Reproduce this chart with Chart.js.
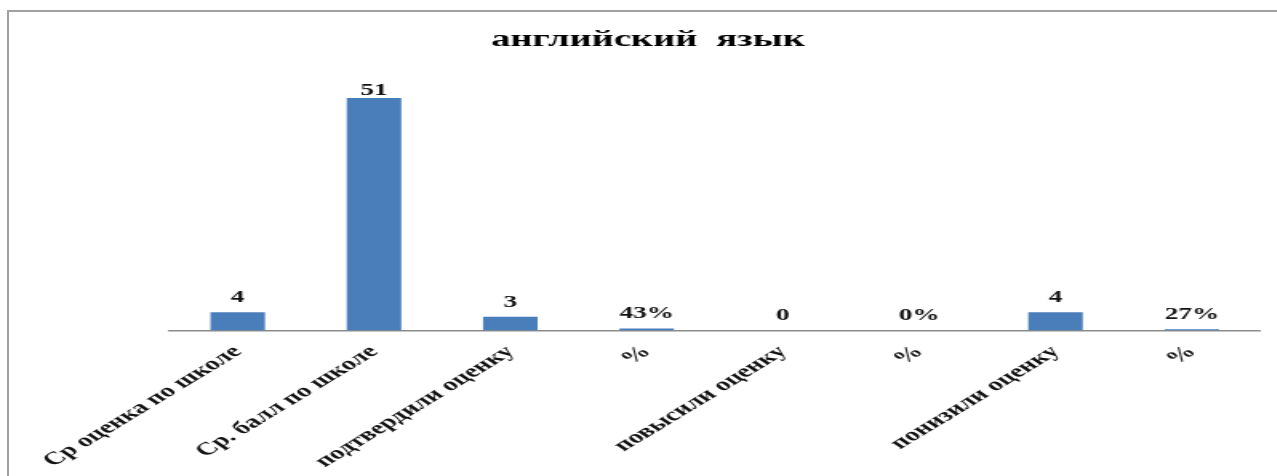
<!DOCTYPE html>
<html>
<head>
<meta charset="utf-8">
<script src="https://cdn.jsdelivr.net/npm/chart.js@4/dist/chart.umd.min.js"></script>
<style>
html,body{margin:0;padding:0;background:#fff;overflow:hidden;width:1277px;height:476px;}
#clip{position:absolute;left:0;top:0;width:1277px;height:476px;overflow:hidden;}
#wrap{position:absolute;left:0;top:0;width:798px;height:475px;transform:scaleX(1.6);transform-origin:0 0;}
#borderTop{position:absolute;left:7px;top:10px;width:1270px;height:0;border-top:2px solid #a0a0a0;}
#borderLeft{position:absolute;left:7px;top:10px;width:0;height:466px;border-left:2px solid #a0a0a0;}
</style>
</head>
<body>
<div id="clip"><div id="wrap"><canvas id="c"></canvas></div></div>
<div id="borderTop"></div>
<div id="borderLeft"></div>
<script>
const chartTitle = 'английский  язык';
const categories = ['Ср оценка по школе', 'Ср. балл по школе', 'подтвердили оценку', '%', 'повысили оценку', '%', 'понизили оценку', '%'];
const values = [4, 51, 3, 0.43, 0, 0, 4, 0.27];
const isPercent = [false, false, false, true, false, true, false, true];

const SERIF = '"Liberation Serif", "Times New Roman", serif';

const valueLabels = {
  id: 'valueLabels',
  afterDatasetsDraw(chart) {
    const ctx = chart.ctx;
    const meta = chart.getDatasetMeta(0);
    ctx.save();
    ctx.font = 'bold 17px ' + SERIF;
    ctx.fillStyle = '#111';
    ctx.textAlign = 'center';
    ctx.textBaseline = 'alphabetic';
    meta.data.forEach((bar, i) => {
      const txt = isPercent[i] ? Math.round(values[i] * 100) + '%' : String(values[i]);
      let y = bar.y - 10;
      y = Math.max(y, chart.chartArea.top + 15);
      ctx.fillText(txt, bar.x, y);
    });
    ctx.restore();
  }
};

new Chart(document.getElementById('c'), {
  type: 'bar',
  data: {
    labels: categories,
    datasets: [{
      data: values,
      backgroundColor: '#4a7ebb',
      borderWidth: 0,
      barPercentage: 0.4,
      categoryPercentage: 1.0
    }]
  },
  options: {
    responsive: true,
    maintainAspectRatio: false,
    animation: false,
    devicePixelRatio: 1,
    layout: { padding: { left: 12, right: 0, top: 12, bottom: 0 } },
    plugins: {
      legend: { display: false },
      tooltip: { enabled: false },
      title: {
        display: true,
        text: chartTitle,
        color: '#000',
        font: { family: SERIF, size: 24, weight: 'bold' },
        padding: { top: 13.6, bottom: 25.5 }
      }
    },
    scales: {
      x: {
        grid: { display: false },
        border: { display: true, color: '#8c8c8c', width: 1.5 },
        ticks: {
          autoSkip: false,
          minRotation: 44,
          maxRotation: 44,
          padding: 3,
          color: '#111',
          font: { family: SERIF, size: 18, weight: 'bold' }
        }
      },
      y: {
        display: true,
        min: 0,
        max: 55,
        grid: { display: false },
        border: { display: false },
        ticks: { display: false },
        afterFit(scale) { scale.width = 94; }
      },
      yR: {
        display: true,
        position: 'right',
        grid: { display: false },
        border: { display: false },
        ticks: { display: false },
        afterFit(scale) { scale.width = 10.5; }
      }
    }
  },
  plugins: [valueLabels]
});
</script>
</body>
</html>
